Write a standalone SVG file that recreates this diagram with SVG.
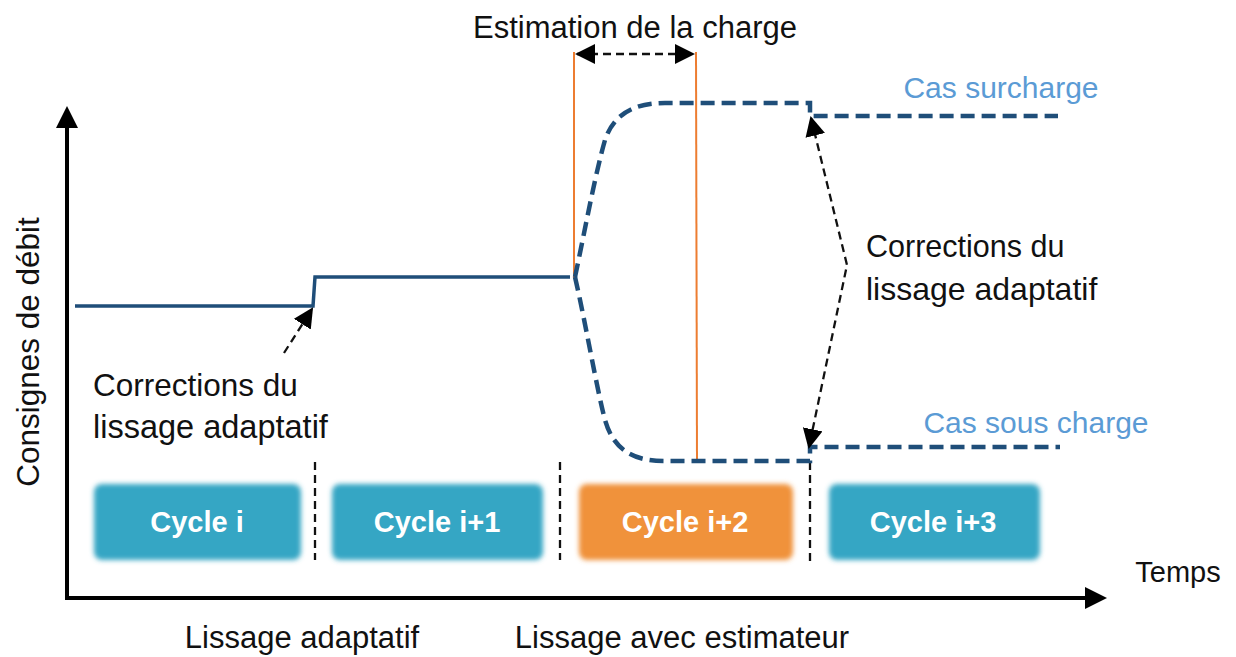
<svg xmlns="http://www.w3.org/2000/svg" width="1236" height="657" viewBox="0 0 1236 657">
<style>
  .t { font-family: "Liberation Sans", Arial, sans-serif; fill: #111; }
  .blue { fill: #5b9bd5; }
  .cyc { font-family: "Liberation Sans", Arial, sans-serif; font-weight: bold; fill: #ffffff; font-size: 29px; text-anchor: middle; }
  .solid { fill: none; stroke: #1f4e79; stroke-width: 3.5; }
  .dashb { fill: none; stroke: #1f4e79; stroke-width: 4.5; stroke-dasharray: 14 7; }
  .orange { stroke: #ed7d31; stroke-width: 2; fill: none; }
  .dk { stroke: #111; stroke-width: 2.3; stroke-dasharray: 8 5; fill: none; }
  .sep { stroke: #111; stroke-width: 2.3; stroke-dasharray: 8 5; fill: none; }
  .axis { stroke: #000; stroke-width: 4; fill: none; }
</style>
<defs>
  <filter id="soft" x="-10%" y="-20%" width="120%" height="140%">
    <feGaussianBlur stdDeviation="2.5"/>
  </filter>
  <marker id="ahs" viewBox="0 0 10 10" refX="9" refY="5" markerWidth="20" markerHeight="20" markerUnits="userSpaceOnUse" orient="auto-start-reverse">
    <path d="M0,0 L10,5 L0,10 z" fill="#000"/>
  </marker>
</defs>
<rect width="1236" height="657" fill="#ffffff"/>

<!-- axes -->
<g id="axes">
  <path class="axis" d="M67,126 L67,598 L1087,598"/>
  <path d="M67,106 L56,128 L78,128 z" fill="#000"/>
  <path d="M1107,598 L1085,587 L1085,609 z" fill="#000"/>
</g>

<!-- cycles -->
<g id="cycle-i">
  <rect x="94" y="484" width="207" height="76" rx="8" fill="#35a6c4" filter="url(#soft)"/>
  <text class="cyc" x="197" y="532">Cycle i</text>
</g>
<g id="cycle-i1">
  <rect x="332" y="484" width="211" height="76" rx="8" fill="#35a6c4" filter="url(#soft)"/>
  <text class="cyc" x="437" y="532">Cycle i+1</text>
</g>
<g id="cycle-i2">
  <rect x="579" y="484" width="214" height="76" rx="8" fill="#f0923a" filter="url(#soft)"/>
  <text class="cyc" x="685" y="532">Cycle i+2</text>
</g>
<g id="cycle-i3">
  <rect x="829" y="484" width="211" height="76" rx="8" fill="#35a6c4" filter="url(#soft)"/>
  <text class="cyc" x="933" y="532">Cycle i+3</text>
</g>

<g id="connectors">
  <!-- cycle separators -->
  <line class="sep" x1="315" y1="462" x2="315" y2="560"/>
  <line class="sep" x1="560" y1="462" x2="560" y2="560"/>
  <line class="sep" x1="810" y1="462" x2="810" y2="562"/>

  <!-- solid set-point line -->
  <path class="solid" d="M75,306 L313,306 L315,277 L570,277"/>

  <!-- orange estimation markers -->
  <line class="orange" x1="574" y1="52" x2="574" y2="278"/>
  <line class="orange" x1="696" y1="52" x2="697" y2="461"/>

  <!-- dashed curves -->
  <path class="dashb" d="M575,277 C585,230 595,175 605,140 C615,110 640,103 665,103 L810,103 L810,116 L1058,116"/>
  <path class="dashb" d="M575,277 C585,320 597,390 605,420 C615,455 640,461 665,461 L810,461 L810,447 L1060,447"/>

  <!-- estimation double arrow -->
  <line class="dk" x1="577" y1="54" x2="693" y2="54" marker-start="url(#ahs)" marker-end="url(#ahs)"/>

  <!-- left correction arrow -->
  <line class="dk" x1="284" y1="353" x2="312" y2="309" marker-end="url(#ahs)"/>

  <!-- right correction arrows -->
  <polyline class="dk" points="811,118 847,265 809,447" marker-start="url(#ahs)" marker-end="url(#ahs)"/>
</g>

<!-- labels -->
<g id="labels">
  <text class="t" x="635" y="38" font-size="31" text-anchor="middle">Estimation de la charge</text>
  <text class="t blue" x="1001" y="98" font-size="30" text-anchor="middle">Cas surcharge</text>
  <text class="t blue" x="1036" y="433" font-size="30" text-anchor="middle">Cas sous charge</text>
  <text class="t" x="866" y="257" font-size="30.5">Corrections du</text>
  <text class="t" x="866" y="300" font-size="32">lissage adaptatif</text>
  <text class="t" x="93" y="396" font-size="31.5">Corrections du</text>
  <text class="t" x="93" y="438" font-size="32.5">lissage adaptatif</text>
  <text class="t" x="302" y="648" font-size="31" text-anchor="middle">Lissage adaptatif</text>
  <text class="t" x="682" y="648" font-size="31" text-anchor="middle">Lissage avec estimateur</text>
  <text class="t" x="1178" y="582" font-size="29" text-anchor="middle">Temps</text>
  <text class="t" x="0" y="0" font-size="31.5" text-anchor="middle" transform="translate(39,352) rotate(-90)">Consignes de débit</text>
</g>
</svg>
